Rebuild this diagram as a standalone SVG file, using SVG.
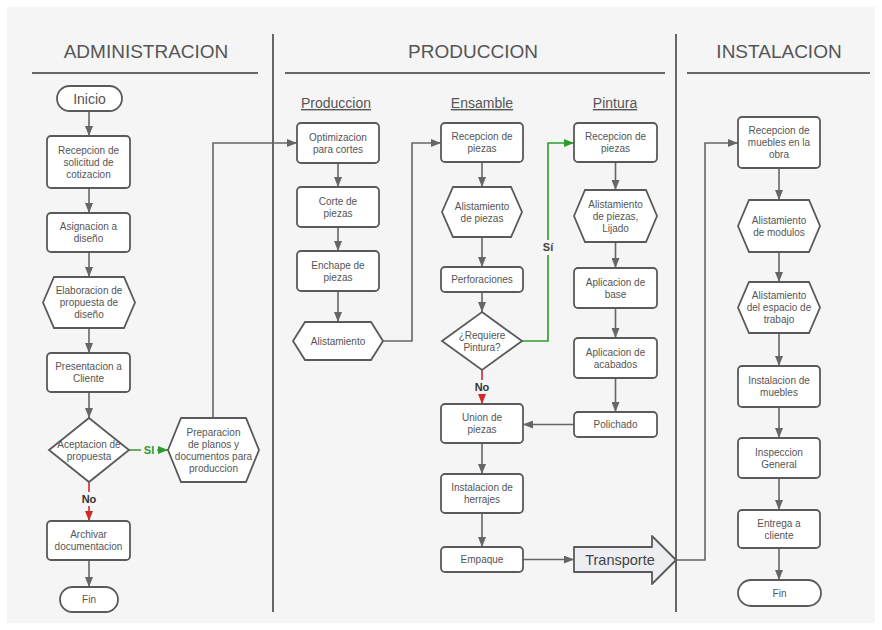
<svg xmlns="http://www.w3.org/2000/svg" width="882" height="630" viewBox="0 0 882 630">
<style>
.n{fill:#fff;stroke:#5a5a5a;stroke-width:1.8}
.t{font-family:"Liberation Sans",Arial,sans-serif;font-size:10px;fill:#555;text-anchor:middle}
.h{font-family:"Liberation Sans",Arial,sans-serif;font-size:19px;fill:#555;text-anchor:middle}
.s{font-family:"Liberation Sans",Arial,sans-serif;font-size:14px;fill:#555;text-anchor:middle;text-decoration:underline}
.c{fill:none;stroke:#666;stroke-width:1.6}
.g{fill:none;stroke:#2f9a2f;stroke-width:1.6}
.r{fill:none;stroke:#d02a2a;stroke-width:1.6}
.sep{stroke:#666;stroke-width:2}
.lb{font-family:"Liberation Sans",Arial,sans-serif;font-size:11px;font-weight:bold;text-anchor:middle}
</style>
<defs>
<marker id="a" markerUnits="userSpaceOnUse" markerWidth="10" markerHeight="8" refX="10" refY="4" orient="auto"><path d="M0,0 L10,4 L0,8 z" fill="#666"/></marker>
<marker id="ag" markerUnits="userSpaceOnUse" markerWidth="10" markerHeight="8" refX="10" refY="4" orient="auto"><path d="M0,0 L10,4 L0,8 z" fill="#2f9a2f"/></marker>
<marker id="ar" markerUnits="userSpaceOnUse" markerWidth="10" markerHeight="8" refX="10" refY="4" orient="auto"><path d="M0,0 L10,4 L0,8 z" fill="#d02a2a"/></marker>
</defs>
<rect x="0" y="0" width="882" height="630" fill="#fff"/>
<rect x="7" y="7" width="868" height="616" fill="#f5f5f5"/>

<g id="lanes">
<text class="h" x="146" y="58">ADMINISTRACION</text>
<line class="sep" x1="32" y1="73" x2="258" y2="73"/>
<text class="h" x="473" y="58">PRODUCCION</text>
<line class="sep" x1="285" y1="73" x2="665" y2="73"/>
<text class="h" x="779" y="58">INSTALACION</text>
<line class="sep" x1="687" y1="73" x2="870" y2="73"/>
<line class="sep" x1="273" y1="34" x2="273" y2="612"/>
<line class="sep" x1="676" y1="34" x2="676" y2="612"/>
<text class="s" x="336" y="108">Produccion</text>
<text class="s" x="482" y="108">Ensamble</text>
<text class="s" x="615" y="108">Pintura</text>
</g>

<g id="connectors">
<path class="c" d="M89,111 V136" marker-end="url(#a)"/>
<path class="c" d="M89,188 V213" marker-end="url(#a)"/>
<path class="c" d="M89,252 V277" marker-end="url(#a)"/>
<path class="c" d="M89,328 V353" marker-end="url(#a)"/>
<path class="c" d="M89,392 V418" marker-end="url(#a)"/>
<path class="r" d="M89,482 V521" marker-end="url(#ar)"/>
<rect x="79" y="492" width="20" height="14" fill="#f5f5f5"/>
<text class="lb" x="89" y="503" fill="#333">No</text>
<path class="g" d="M129,450 H168" marker-end="url(#ag)"/>
<rect x="141" y="443" width="16" height="14" fill="#f5f5f5"/>
<text class="lb" x="149" y="454" fill="#2f9a2f">SI</text>
<path class="c" d="M89,560 V587" marker-end="url(#a)"/>
<path class="c" d="M213,418 V143 H297" marker-end="url(#a)"/>

<path class="c" d="M338,163 V187" marker-end="url(#a)"/>
<path class="c" d="M338,227 V251" marker-end="url(#a)"/>
<path class="c" d="M338,291 V322" marker-end="url(#a)"/>
<path class="c" d="M383,341 H412 V143 H441" marker-end="url(#a)"/>

<path class="c" d="M482,162 V187" marker-end="url(#a)"/>
<path class="c" d="M482,237 V267" marker-end="url(#a)"/>
<path class="c" d="M482,292 V312" marker-end="url(#a)"/>
<path class="g" d="M522,341 H548 V143 H574" marker-end="url(#ag)"/>
<rect x="540" y="240" width="16" height="15" fill="#f5f5f5"/>
<text class="lb" x="548" y="251" fill="#444">Sí</text>
<path class="r" d="M482,370 V404" marker-end="url(#ar)"/>
<rect x="472" y="380" width="20" height="14" fill="#f5f5f5"/>
<text class="lb" x="482" y="391" fill="#333">No</text>
<path class="c" d="M482,443 V474" marker-end="url(#a)"/>
<path class="c" d="M482,513 V547" marker-end="url(#a)"/>
<path class="c" d="M523,559.5 H574" marker-end="url(#a)"/>

<path class="c" d="M615.5,162 V190" marker-end="url(#a)"/>
<path class="c" d="M615.5,242 V268" marker-end="url(#a)"/>
<path class="c" d="M615.5,308 V338" marker-end="url(#a)"/>
<path class="c" d="M615.5,378 V412" marker-end="url(#a)"/>
<path class="c" d="M574,424.5 H523" marker-end="url(#a)"/>

<path class="c" d="M676,560 H705 V143 H738" marker-end="url(#a)"/>
<path class="c" d="M779,168 V200" marker-end="url(#a)"/>
<path class="c" d="M779,252 V282" marker-end="url(#a)"/>
<path class="c" d="M779,333 V366" marker-end="url(#a)"/>
<path class="c" d="M779,407 V438" marker-end="url(#a)"/>
<path class="c" d="M779,478 V510" marker-end="url(#a)"/>
<path class="c" d="M779,548 V580" marker-end="url(#a)"/>
</g>

<g id="inicio"><rect class="n" x="57" y="86" width="65" height="25" rx="12.5"/><text class="t" x="89.5" y="103.5" style="font-size:14px">Inicio</text></g>
<g id="recepcion-solicitud"><rect class="n" x="47" y="136" width="83" height="52" rx="4"/><text class="t" x="88.5" y="153.5">Recepcion de<tspan x="88.5" dy="12">solicitud de</tspan><tspan x="88.5" dy="12">cotizacion</tspan></text></g>
<g id="asignacion"><rect class="n" x="47" y="213" width="83" height="39" rx="4"/><text class="t" x="88.5" y="230">Asignacion a<tspan x="88.5" dy="12">diseño</tspan></text></g>
<g id="elaboracion"><polygon class="n" points="43,302.5 54,277 124,277 135,302.5 124,328 54,328"/><text class="t" x="89" y="294">Elaboracion de<tspan x="89" dy="12">propuesta de</tspan><tspan x="89" dy="12">diseño</tspan></text></g>
<g id="presentacion"><rect class="n" x="47" y="353" width="83" height="39" rx="4"/><text class="t" x="88.5" y="370">Presentacion a<tspan x="88.5" dy="12">Cliente</tspan></text></g>
<g id="aceptacion"><polygon class="n" points="89,418 129,450 89,482 49,450"/><text class="t" x="89" y="447.5">Aceptacion de<tspan x="89" dy="12">propuesta</tspan></text></g>
<g id="archivar"><rect class="n" x="47" y="521" width="83" height="39" rx="4"/><text class="t" x="88.5" y="538">Archivar<tspan x="88.5" dy="12">documentacion</tspan></text></g>
<g id="fin-admin"><rect class="n" x="60" y="587" width="58" height="25" rx="12.5"/><text class="t" x="89" y="603">Fin</text></g>
<g id="preparacion"><polygon class="n" points="168,450 181,418 246,418 259,450 246,482 181,482"/><text class="t" x="213.5" y="435.5">Preparacion<tspan x="213.5" dy="12">de planos y</tspan><tspan x="213.5" dy="12">documentos para</tspan><tspan x="213.5" dy="12">produccion</tspan></text></g>

<g id="optimizacion"><rect class="n" x="297" y="123" width="82" height="40" rx="4"/><text class="t" x="338" y="140.5">Optimizacion<tspan x="338" dy="12">para cortes</tspan></text></g>
<g id="corte"><rect class="n" x="297" y="187" width="82" height="40" rx="4"/><text class="t" x="338" y="204.5">Corte de<tspan x="338" dy="12">piezas</tspan></text></g>
<g id="enchape"><rect class="n" x="297" y="251" width="82" height="40" rx="4"/><text class="t" x="338" y="268.5">Enchape de<tspan x="338" dy="12">piezas</tspan></text></g>
<g id="alistamiento-prod"><polygon class="n" points="293,341 305,322 371,322 383,341 371,360 305,360"/><text class="t" x="338" y="344.5">Alistamiento</text></g>

<g id="recepcion-ensamble"><rect class="n" x="441" y="123" width="82" height="39" rx="4"/><text class="t" x="482" y="140">Recepcion de<tspan x="482" dy="12">piezas</tspan></text></g>
<g id="alistamiento-ensamble"><polygon class="n" points="442,212 453,187 511,187 522,212 511,237 453,237"/><text class="t" x="482" y="209.5">Alistamiento<tspan x="482" dy="12">de piezas</tspan></text></g>
<g id="perforaciones"><rect class="n" x="441" y="267" width="82" height="25" rx="4"/><text class="t" x="482" y="283">Perforaciones</text></g>
<g id="requiere-pintura"><polygon class="n" points="482,312 522,341 482,370 442,341"/><text class="t" x="482" y="338.5">¿Requiere<tspan x="482" dy="12">Pintura?</tspan></text></g>
<g id="union"><rect class="n" x="441" y="404" width="82" height="39" rx="4"/><text class="t" x="482" y="421">Union de<tspan x="482" dy="12">piezas</tspan></text></g>
<g id="herrajes"><rect class="n" x="441" y="474" width="82" height="39" rx="4"/><text class="t" x="482" y="491">Instalacion de<tspan x="482" dy="12">herrajes</tspan></text></g>
<g id="empaque"><rect class="n" x="441" y="547" width="82" height="25" rx="4"/><text class="t" x="482" y="563">Empaque</text></g>
<g id="transporte"><path d="M574,547 H652 V536 L676,560 L652,584 V572 H574 Z" fill="#eceef2" stroke="#5a5a5a" stroke-width="1.8" stroke-linejoin="round"/><text class="t" x="620" y="565" style="font-size:14.5px;fill:#444">Transporte</text></g>

<g id="recepcion-pintura"><rect class="n" x="574" y="123" width="83" height="39" rx="4"/><text class="t" x="615.5" y="140">Recepcion de<tspan x="615.5" dy="12">piezas</tspan></text></g>
<g id="alistamiento-pintura"><polygon class="n" points="574,216 585,190 646,190 657,216 646,242 585,242"/><text class="t" x="615.5" y="207.5">Alistamiento<tspan x="615.5" dy="12">de piezas,</tspan><tspan x="615.5" dy="12">Lijado</tspan></text></g>
<g id="base"><rect class="n" x="574" y="268" width="83" height="40" rx="4"/><text class="t" x="615.5" y="285.5">Aplicacion de<tspan x="615.5" dy="12">base</tspan></text></g>
<g id="acabados"><rect class="n" x="574" y="338" width="83" height="40" rx="4"/><text class="t" x="615.5" y="355.5">Aplicacion de<tspan x="615.5" dy="12">acabados</tspan></text></g>
<g id="polichado"><rect class="n" x="574" y="412" width="83" height="25" rx="4"/><text class="t" x="615.5" y="428">Polichado</text></g>

<g id="recepcion-muebles"><rect class="n" x="738" y="117" width="82" height="51" rx="4"/><text class="t" x="779" y="134">Recepcion de<tspan x="779" dy="12">muebles en la</tspan><tspan x="779" dy="12">obra</tspan></text></g>
<g id="alistamiento-modulos"><polygon class="n" points="738,226 749,200 809,200 820,226 809,252 749,252"/><text class="t" x="779" y="223.5">Alistamiento<tspan x="779" dy="12">de modulos</tspan></text></g>
<g id="alistamiento-espacio"><polygon class="n" points="738,307.5 749,282 809,282 820,307.5 809,333 749,333"/><text class="t" x="779" y="299">Alistamiento<tspan x="779" dy="12">del espacio de</tspan><tspan x="779" dy="12">trabajo</tspan></text></g>
<g id="instalacion-muebles"><rect class="n" x="738" y="366" width="82" height="41" rx="4"/><text class="t" x="779" y="384">Instalacion de<tspan x="779" dy="12">muebles</tspan></text></g>
<g id="inspeccion"><rect class="n" x="738" y="438" width="82" height="40" rx="4"/><text class="t" x="779" y="455.5">Inspeccion<tspan x="779" dy="12">General</tspan></text></g>
<g id="entrega"><rect class="n" x="738" y="510" width="82" height="38" rx="4"/><text class="t" x="779" y="526.5">Entrega a<tspan x="779" dy="12">cliente</tspan></text></g>
<g id="fin-inst"><rect class="n" x="738" y="580" width="83" height="26" rx="13"/><text class="t" x="779.5" y="596.5">Fin</text></g>
</svg>
